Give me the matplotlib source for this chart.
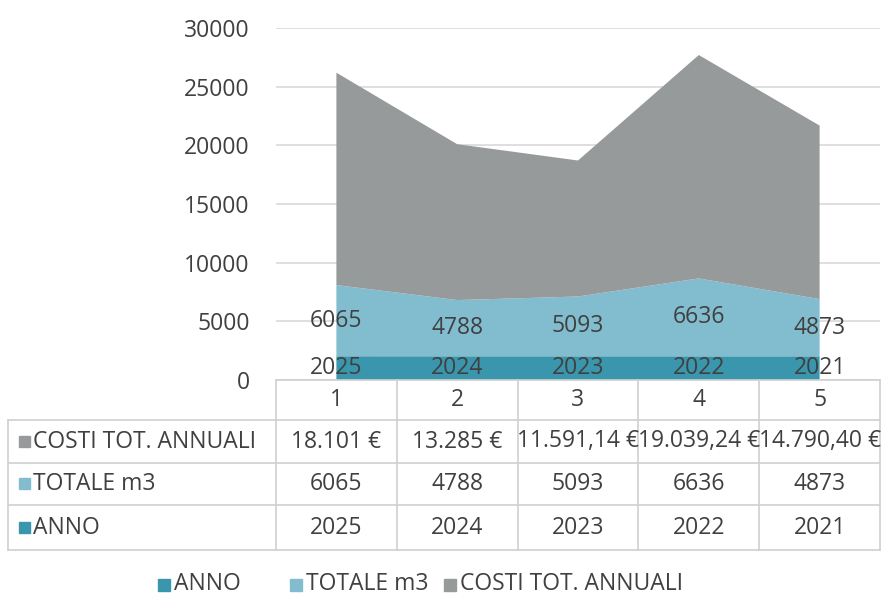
import matplotlib
matplotlib.use("Agg")
import matplotlib.pyplot as plt
from matplotlib.patches import Rectangle
from matplotlib.lines import Line2D

plt.rcParams['font.family'] = ['Open Sans', 'DejaVu Sans']

categories = ['1', '2', '3', '4', '5']
anno = [2025, 2024, 2023, 2022, 2021]
totale_m3 = [6065, 4788, 5093, 6636, 4873]
costi = [18101, 13285, 11591.14, 19039.24, 14790.40]
costi_labels = ['18.101 €', '13.285 €', '11.591,14 €', '19.039,24 €', '14.790,40 €']
series_names = ['ANNO', 'TOTALE m3', 'COSTI TOT. ANNUALI']
colors = ['#3A96AD', '#82BDCF', '#979A9B']
yticks = [0, 5000, 10000, 15000, 20000, 25000, 30000]

W, H = 884, 597
fig = plt.figure(figsize=(W / 100, H / 100), dpi=100)
txt = '#404040'
grid = '#D9D9D9'
fs = 16.5

def fx(px):
    return px / W

def fy(py):
    return 1 - py / H

ax_l, ax_r, ax_t, ax_b = 276, 880, 28, 380
ax = fig.add_axes([fx(ax_l), fy(ax_b), fx(ax_r - ax_l), (ax_b - ax_t) / H])
x = list(range(1, len(categories) + 1))
ax.stackplot(x, anno, totale_m3, costi, colors=colors, zorder=2)
ax.set_xlim(0.5, len(categories) + 0.5)
ax.set_ylim(0, 30000)
ax.set_yticks(yticks)
ax.set_yticklabels([str(t) for t in yticks], fontsize=fs, color=txt)
ax.tick_params(axis='y', length=0, pad=19)
ax.set_xticks([])
ax.grid(axis='y', color=grid, linewidth=1.2, zorder=0)
for s in ax.spines.values():
    s.set_visible(False)

# data labels
for xi, a, t in zip(x, anno, totale_m3):
    ax.text(xi, a / 2, str(a), ha='center', va='center', fontsize=fs, color=txt, zorder=5)
    ax.text(xi, a + t / 2, str(t), ha='center', va='center', fontsize=fs, color=txt, zorder=5)

# data table
col_w = (ax_r - ax_l) / len(categories)
rows_y = [380, 420, 463, 505, 550]
lc = '#D0D0D0'
lw = 1.2
fig.add_artist(Line2D([fx(ax_l), fx(ax_r)], [fy(rows_y[0])] * 2, color=lc, lw=lw))
for yy in rows_y[1:]:
    fig.add_artist(Line2D([fx(8), fx(ax_r)], [fy(yy)] * 2, color=lc, lw=lw))
for i in range(len(categories) + 1):
    xx = ax_l + i * col_w
    fig.add_artist(Line2D([fx(xx)] * 2, [fy(rows_y[0]), fy(rows_y[-1])], color=lc, lw=lw))
fig.add_artist(Line2D([fx(8)] * 2, [fy(rows_y[1]), fy(rows_y[-1])], color=lc, lw=lw))

for i, c in enumerate(categories):
    cx = ax_l + (i + 0.5) * col_w
    fig.text(fx(cx), fy((rows_y[0] + rows_y[1]) / 2), c, ha='center', va='center', fontsize=fs, color=txt)

table_rows = [
    (series_names[2], colors[2], costi_labels),
    (series_names[1], colors[1], [str(v) for v in totale_m3]),
    (series_names[0], colors[0], [str(v) for v in anno]),
]
for r, (name, col, vals) in enumerate(table_rows):
    y0, y1 = rows_y[r + 1], rows_y[r + 2]
    cy = (y0 + y1) / 2
    fig.add_artist(Rectangle((fx(19), fy(cy + 5)), fx(11), 11 / H, color=col, transform=fig.transFigure))
    fig.text(fx(33), fy(cy), name, ha='left', va='center', fontsize=fs, color=txt)
    for i, v in enumerate(vals):
        cx = ax_l + (i + 0.5) * col_w
        fig.text(fx(cx), fy(cy), v, ha='center', va='center', fontsize=fs, color=txt)

# legend
leg_x = [158, 290, 444]
for lx, name, col in zip(leg_x, series_names, colors):
    fig.add_artist(Rectangle((fx(lx), fy(591)), fx(12), 12 / H, color=col, transform=fig.transFigure))
    fig.text(fx(lx + 16), fy(584), name, ha='left', va='center', fontsize=fs, color=txt)

fig.savefig('out.png', dpi=100)
